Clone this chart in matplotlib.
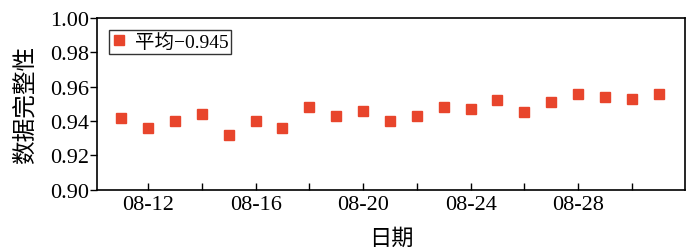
import numpy as np
from matplotlib import pyplot as plt
from matplotlib import font_manager as fm

serif = 'Liberation Serif'
cjk = 'Noto Sans CJK SC'
plt.rcParams['font.family'] = [serif, cjk]
serif_path = fm.findfont(fm.FontProperties(family=serif))

# data
dates = ['08-11', '08-12', '08-13', '08-14', '08-15', '08-16', '08-17',
         '08-18', '08-19', '08-20', '08-21', '08-22', '08-23', '08-24',
         '08-25', '08-26', '08-27', '08-28', '08-29', '08-30', '08-31']
completeness = [0.942, 0.936, 0.940, 0.944, 0.932, 0.940, 0.936,
                0.948, 0.943, 0.946, 0.940, 0.943, 0.948, 0.947,
                0.952, 0.945, 0.951, 0.956, 0.954, 0.953, 0.956]
mean_label = '平均\u22120.945'
yticks = [0.90, 0.92, 0.94, 0.96, 0.98, 1.00]

fig = plt.figure(figsize=(7, 2.51), dpi=100)
ax = fig.add_axes([0.1386, 0.2402, 0.84, 0.6841])

x = np.arange(len(dates))
ax.plot(x, completeness, linestyle='none', marker='s', markersize=7.8,
        color='#e8452c', label=mean_label)

ax.tick_params(axis='x', direction='in', length=5, width=1, pad=4)
ax.tick_params(axis='y', direction='out', length=5, width=1, pad=1)
for s in ax.spines.values():
    s.set_linewidth(1.2)

ticks = x[1::2]
ax.set_xticks(ticks)
ax.set_xticklabels([dates[i] if (i - 1) % 4 == 0 else '' for i in ticks])
ax.set_xlim(-0.9, 20.98)
ax.set_ylim(0.90, 1.00)
ax.set_yticks(yticks)
ax.set_yticklabels(['%.2f' % v for v in yticks])
for t in ax.get_xticklabels() + ax.get_yticklabels():
    t.set_fontproperties(fm.FontProperties(fname=serif_path, size=16))

ax.set_xlabel('日期', fontsize=16, family=cjk, labelpad=8)
ax.set_ylabel('数据完整性', fontsize=17, family=cjk, labelpad=9)

leg = ax.legend(loc='upper left', prop={'family': cjk, 'size': 14},
                frameon=True, fancybox=False,
                handlelength=0.8, handletextpad=0.4, borderpad=0.15,
                borderaxespad=0.6, markerscale=1.0)
for t in leg.get_texts():
    t.set_fontfamily([serif, cjk])
leg.get_frame().set_edgecolor('black')
leg.get_frame().set_linewidth(1.0)

fig.savefig('out.png', dpi=100)
